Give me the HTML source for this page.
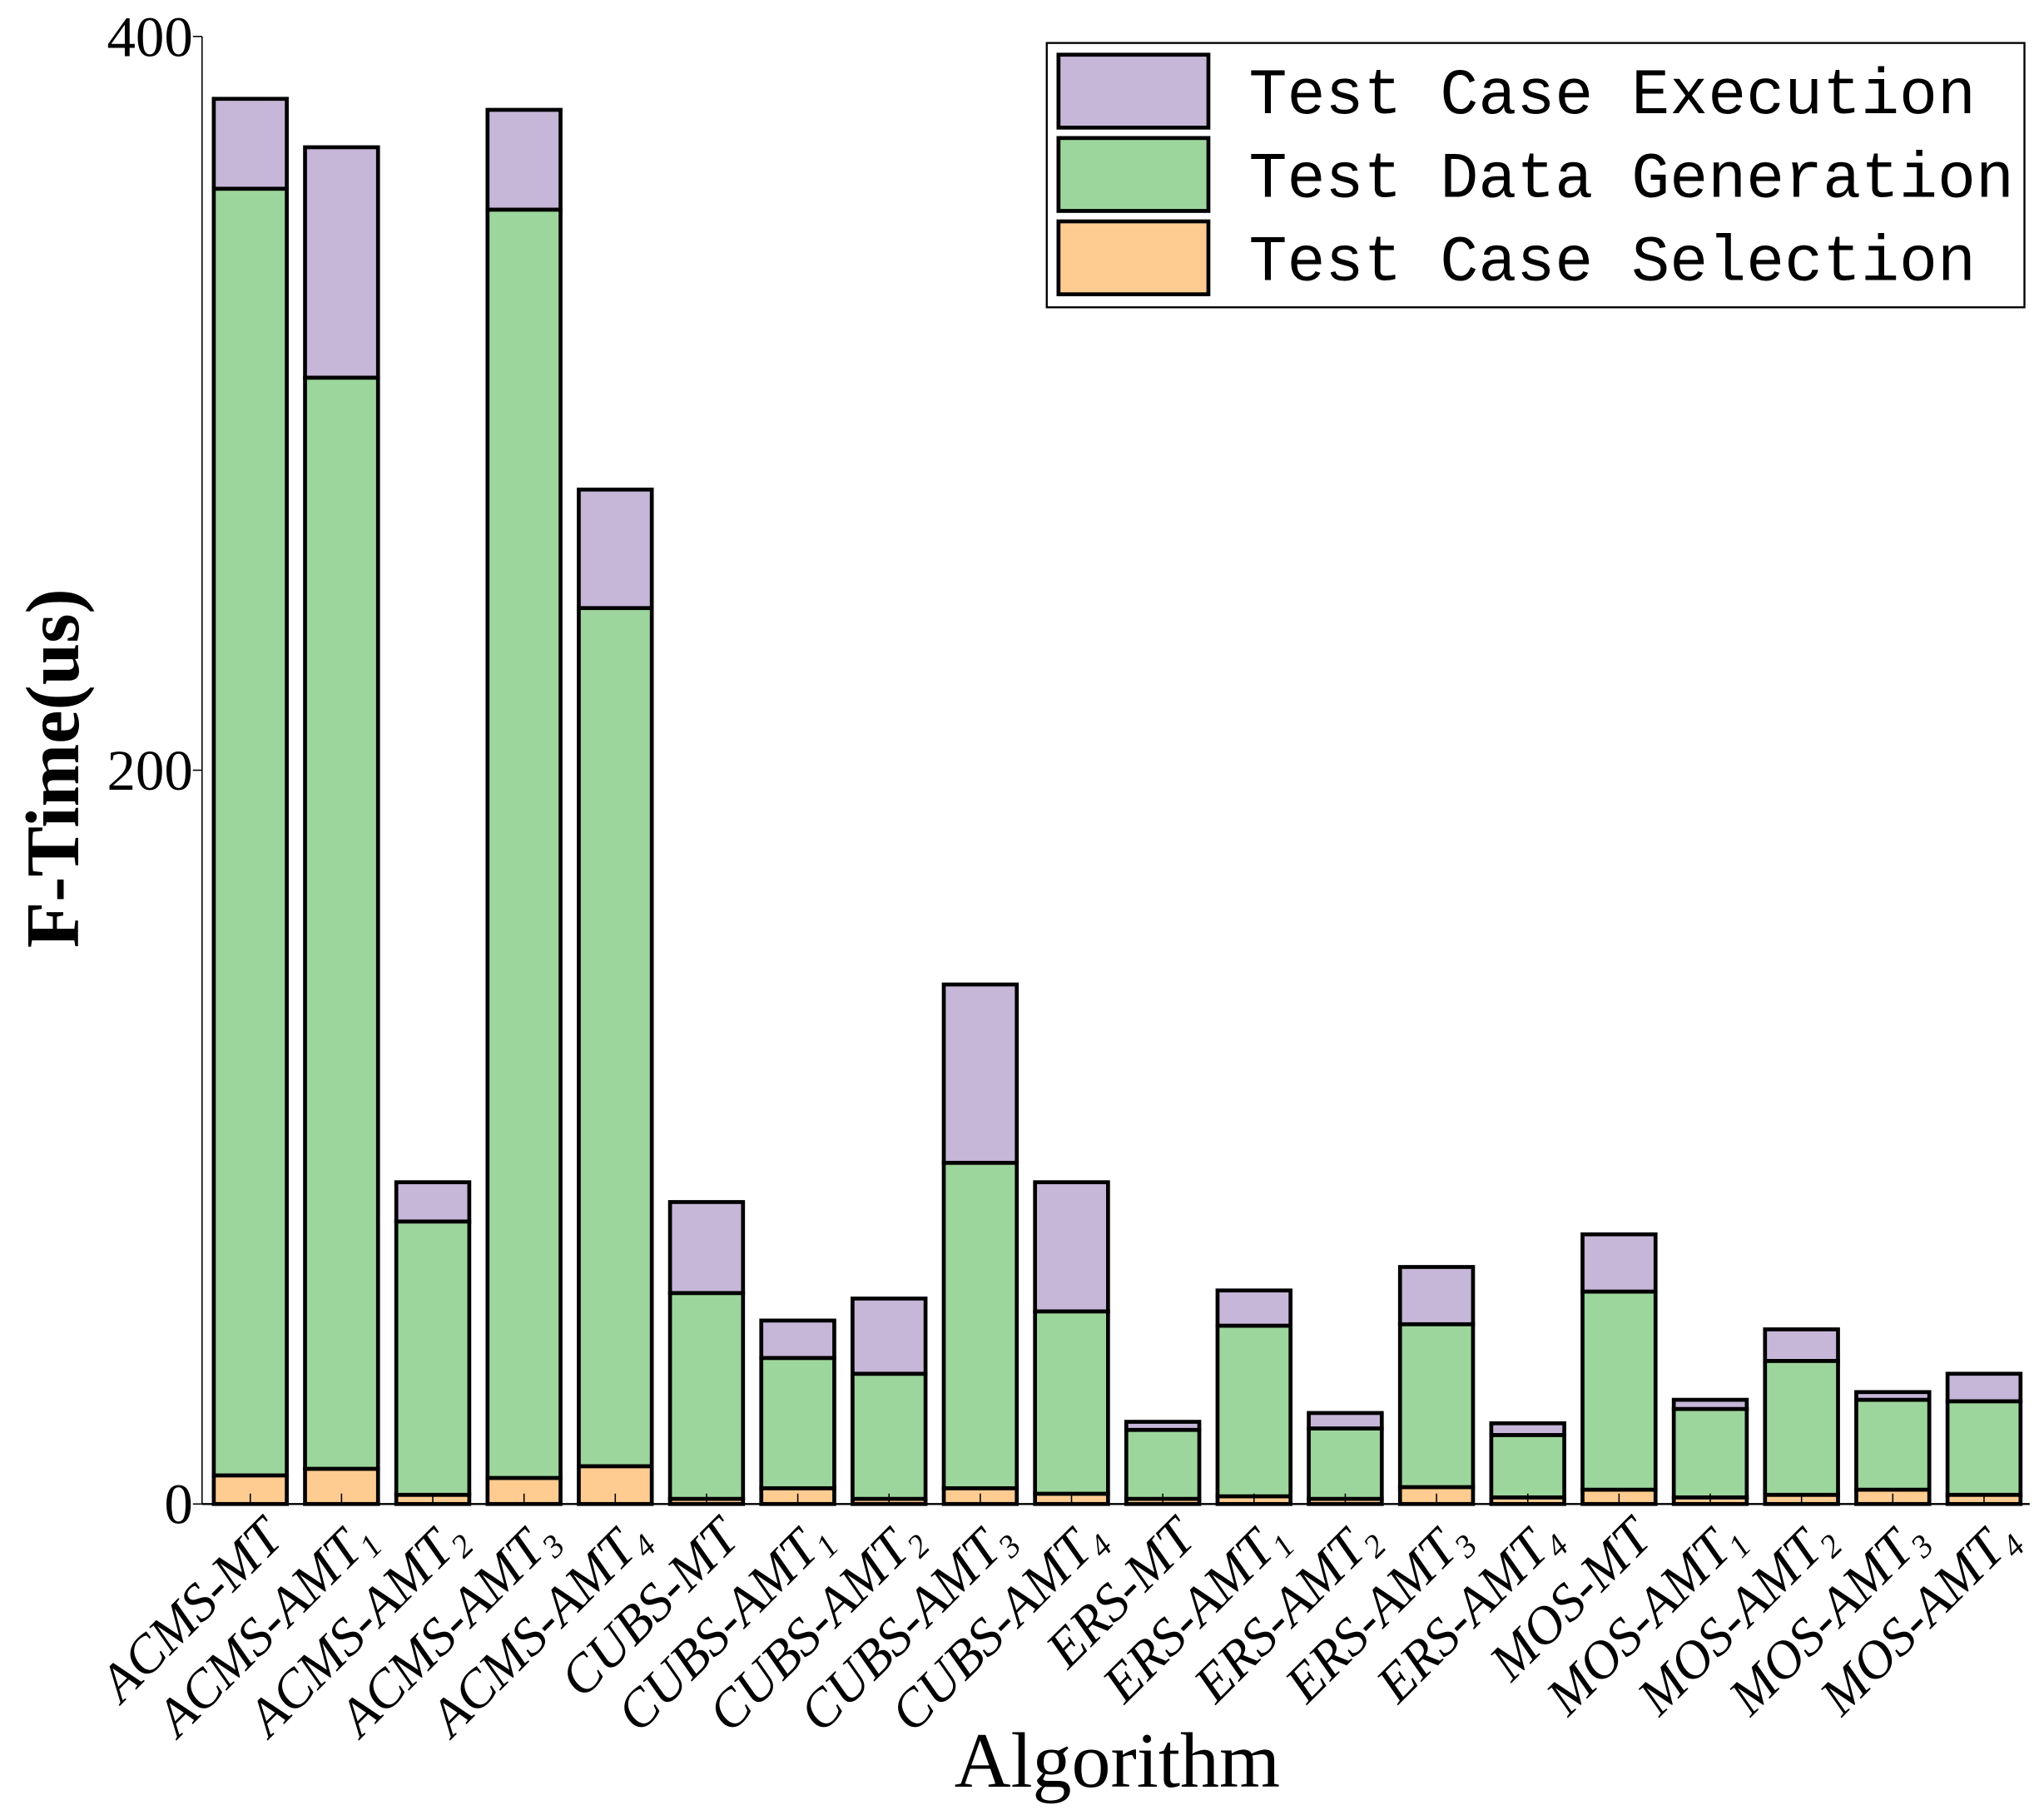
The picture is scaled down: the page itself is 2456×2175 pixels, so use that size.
<!DOCTYPE html>
<html><head><meta charset="utf-8"><style>
html,body{margin:0;padding:0;background:#fff;}
svg{display:block;}
</style></head><body>
<svg id="chart" width="2456" height="2175" viewBox="0 0 1568 1390" preserveAspectRatio="none" xmlns="http://www.w3.org/2000/svg">
<g id="plot"></g>
</svg>
<script>
const categories = ["ACMS-MT","ACMS-AMT1","ACMS-AMT2","ACMS-AMT3","ACMS-AMT4","CUBS-MT","CUBS-AMT1","CUBS-AMT2","CUBS-AMT3","CUBS-AMT4","ERS-MT","ERS-AMT1","ERS-AMT2","ERS-AMT3","ERS-AMT4","MOS-MT","MOS-AMT1","MOS-AMT2","MOS-AMT3","MOS-AMT4"];
const selection = [7.8,9.6,2.5,7.1,10.3,1.4,4.3,1.4,4.3,2.8,1.4,2.1,1.4,4.6,1.8,3.9,1.8,2.5,3.9,2.5];
const generation = [350.7,297.4,74.5,345.7,233.9,56.1,35.5,34.1,88.7,49.7,18.8,46.5,19.2,44.4,17.0,54.0,24.1,36.5,24.5,25.5];
const execution = [24.5,62.8,10.7,27.2,32.3,24.8,10.2,20.5,48.6,35.2,2.2,9.6,4.2,15.6,3.2,15.6,2.5,8.6,2.1,7.5];
const yTicks = [0,200,400];
const seriesNames = ["Test Case Execution","Test Data Generation","Test Case Selection"];
const seriesColors = ["#c6b6d8","#9dd69c","#fecc91"];

const NS = "http://www.w3.org/2000/svg";
const plot = document.getElementById('plot');
const X0 = 155, X1 = 1557, Y0 = 1155, Y1 = 28, YMAX = 400;
const step = 70, barW = 56, firstC = 192;
function yScale(v){ return Y0 - (v / YMAX) * (Y0 - Y1); }
function xScale(i){ return firstC + i * step; }
function mk(tag, attrs, parent){
  const e = document.createElementNS(NS, tag);
  for (const k in attrs) e.setAttribute(k, attrs[k]);
  (parent || plot).appendChild(e);
  return e;
}

categories.forEach((c, i) => {
  const g = mk('g', {});
  
  
  const stacks = [selection[i], generation[i], execution[i]];
  const cols = [seriesColors[2], seriesColors[1], seriesColors[0]];
  const names = ['selection', 'generation', 'execution'];
  let base = 0;
  stacks.forEach((v, k) => {
    const yt = yScale(base + v), yb = yScale(base);
    const r = mk('rect', {x: xScale(i) - barW/2, y: yt, width: barW, height: yb - yt, fill: cols[k], stroke: '#000', 'stroke-width': 3}, g);
    
    
    base += v;
  });
  const t = mk('line', {x1: xScale(i), x2: xScale(i), y1: Y0, y2: Y0 - 8, stroke: '#000', 'stroke-width': 1});
  
  
  const m = c.match(/^(.*?)(\d)?$/);
  const lbl = mk('text', {transform: 'translate(' + (xScale(i) + 27) + ',1183) rotate(-45)', 'text-anchor': 'end', 'font-family': '"Liberation Serif", serif', 'font-style': 'italic', 'font-size': 41});
  
  
  const s1 = mk('tspan', {}, lbl); s1.textContent = m[1];
  if (m[2]) { const s2 = mk('tspan', {'font-size': 25, dy: 8}, lbl); s2.textContent = m[2]; }
});

const ax = mk('line', {x1: X0, x2: X0, y1: Y1, y2: Y0, stroke: '#000', 'stroke-width': 1});


const bx = mk('line', {x1: X0, x2: X1, y1: Y0, y2: Y0, stroke: '#000', 'stroke-width': 1.5});


yTicks.forEach(v => {
  const l = mk('line', {x1: X0 - 7, x2: X0, y1: yScale(v), y2: yScale(v), stroke: '#000', 'stroke-width': 1});
  
  
  const t = mk('text', {x: 148, y: yScale(v) + 15, 'text-anchor': 'end', 'font-family': '"Liberation Serif", serif', 'font-size': 44});
  
  
  t.textContent = v;
});
const yt = mk('text', {transform: 'translate(60,590) rotate(-90)', 'text-anchor': 'middle', 'font-family': '"Liberation Serif", serif', 'font-weight': 'bold', 'font-size': 58});


yt.textContent = 'F-Time(us)';
const xt = mk('text', {x: 857, y: 1372, 'text-anchor': 'middle', 'font-family': '"Liberation Serif", serif', 'font-size': 60});


xt.textContent = 'Algorithm';

const lg = mk('g', {});


mk('rect', {x: 803, y: 33, width: 750, height: 203, fill: '#fff', stroke: '#000', 'stroke-width': 1.5}, lg);
seriesNames.forEach((n, k) => {
  const y = 42 + k * 64;
  const sw = mk('rect', {x: 812, y: y, width: 115, height: 56, fill: seriesColors[k], stroke: '#000', 'stroke-width': 3}, lg);
  
  
  const t = mk('text', {x: 958, y: y + 45, 'font-family': '"Liberation Mono", monospace', 'font-size': 50, textLength: n.length * 29.35, lengthAdjust: 'spacingAndGlyphs'}, lg);
  
  
  t.textContent = n;
});
</script>
</body></html>
